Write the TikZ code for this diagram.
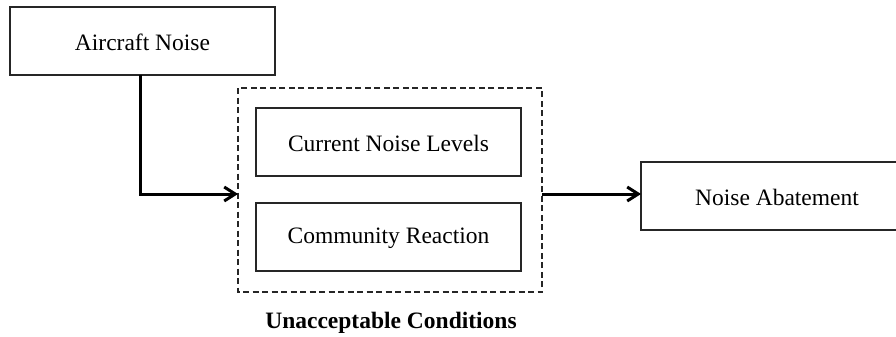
\documentclass[tikz,border=0pt]{standalone}
\usepackage{fontspec}
\setmainfont{Liberation Serif}
\usetikzlibrary{arrows.meta}
\begin{document}
\begin{tikzpicture}[x=1pt,y=-1pt,
  box/.style={draw=black!85,line width=1.5pt,fill=white},
  txt/.style={font=\fontsize{23.5}{28}\selectfont,inner sep=0pt},
  conn/.style={line width=3pt,-{Straight Barb[length=11pt,width=14pt,line width=3pt]}},
  dbox/.style={draw=black!85,line width=1.5pt,dash pattern=on 6pt off 3.5pt}]
\useasboundingbox (0,0) rectangle (896,337);
\fill[white] (0,0) rectangle (896,337);
\draw[box] (10,7) rectangle (275,75);
\node[txt] (an) at (142.5,42) {Aircraft Noise};
\coordinate (anb) at (140,75);
\draw[dbox] (238,88) rectangle (542,292);
\coordinate (dl) at (238,194);
\coordinate (dr) at (542,194);
\draw[box] (256,108) rectangle (521,176);
\node[txt] (cn) at (388.5,143) {Current Noise Levels};
\draw[box] (256,203) rectangle (521,271);
\node[txt] (cr) at (388.5,238) {Community Reaction};
\draw[box] (641,162) rectangle (913,230);
\node[txt] (na) at (777,197) {Noise Abatement};
\coordinate (nal) at (641,194);
\node[txt,font=\fontsize{23.5}{28}\selectfont\bfseries] (uc) at (391,323) {Unacceptable Conditions};
\draw[conn] (anb) |- (dl);
\draw[conn] (dr) -- (nal);
\end{tikzpicture}
\end{document}
